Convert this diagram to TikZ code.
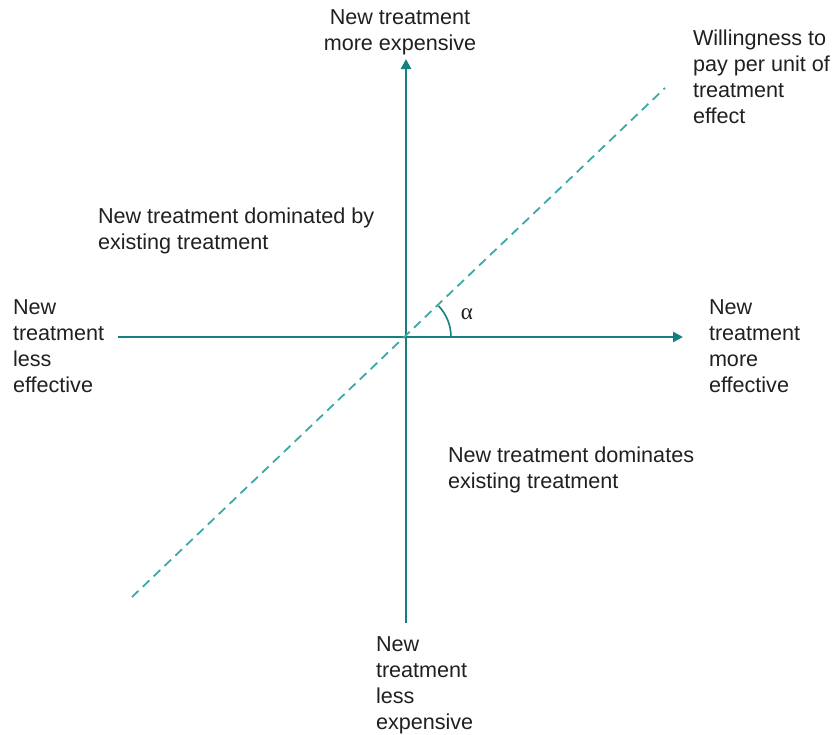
\documentclass[tikz,border=0pt]{standalone}
\usepackage{fontspec}
\setmainfont{Liberation Sans}
\newfontfamily\greekfont{Liberation Serif}
\usetikzlibrary{arrows.meta}
\definecolor{axiscol}{RGB}{22,128,128}
\definecolor{dashcol}{RGB}{60,168,168}
\definecolor{txtcol}{RGB}{32,32,32}
\begin{document}
\begin{tikzpicture}[x=1pt,y=-1pt,
  lbl/.style={inner sep=0pt, outer sep=0pt, text=txtcol, font=\fontsize{21.6}{26}\selectfont, anchor=north west, align=left},
  axisline/.style={draw=axiscol, line width=2.6pt, -{Triangle[length=10pt,width=10pt]}},
  wtp/.style={draw=dashcol, line width=1.8pt, dash pattern=on 9pt off 6pt},
  anglearc/.style={draw=axiscol, line width=1.6pt}]
\useasboundingbox (0,0) rectangle (833,734);
\coordinate (O) at (406,337);
\coordinate (L) at (118,337);
\coordinate (R) at (683,337);
\coordinate (B) at (406,623);
\coordinate (T) at (406,59);
\coordinate (D1) at (132,597);
\coordinate (D2) at (665,88);
\coordinate (A0) at (451,337);
% axes
\draw[axisline] (L) -- (R);
\draw[axisline] (B) -- (T);
% willingness-to-pay line
\draw[wtp] (D1) -- (D2);
% angle
\draw[anglearc] (A0) arc[start angle=0, end angle=-43.7, radius=45];
\node[inner sep=0pt, text=txtcol, font=\greekfont\fontsize{23}{26}\selectfont] (alpha) at (467,314) {α};
% labels
\node[lbl, align=center, anchor=north] (top) at (400,9.5) {New treatment\\more expensive};
\node[lbl] (left) at (13,299.5) {New\\treatment\\less\\effective};
\node[lbl] (right) at (709,299.5) {New\\treatment\\more\\effective};
\node[lbl] (bottom) at (376,636.5) {New\\treatment\\less\\expensive};
\node[lbl] (wtplbl) at (693,29.5) {Willingness to\\pay per unit of\\treatment\\effect};
\node[lbl] (dominated) at (98,207.5) {New treatment dominated by\\existing treatment};
\node[lbl] (dominates) at (448,446.5) {New treatment dominates\\existing treatment};
\end{tikzpicture}
\end{document}
